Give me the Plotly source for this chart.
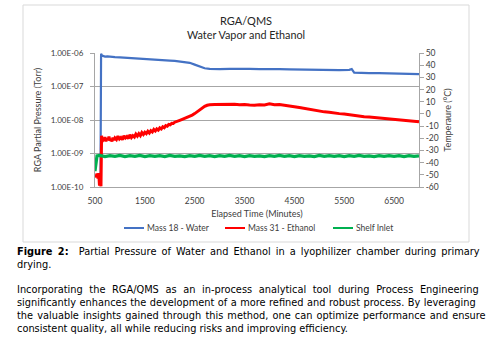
import plotly.graph_objects as go

W, H = 489, 337

# ---- data -------------------------------------------------------------
water_time = [610, 622, 640, 670, 700, 750, 800, 900, 1000, 1100, 1200, 1300, 1400,
              1500, 1600, 1700, 1800, 1900, 2000, 2100, 2200, 2300, 2400, 2500,
              2600, 2700, 2800, 2900, 3000, 3200, 3400, 3600, 3800, 4000, 4200,
              4400, 4600, 4800, 5000, 5200, 5400, 5600, 5650, 5700, 5800, 6000,
              6200, 6400, 6600, 6800, 7000]
water_torr = [1.2e-10, 9.5e-7, 8.4e-7, 8.0e-7, 7.8e-7, 7.9e-7, 7.7e-7, 7.5e-7, 7.4e-7,
              7.2e-7, 7.1e-7, 6.9e-7, 6.7e-7, 6.6e-7, 6.4e-7, 6.3e-7, 6.2e-7, 6.0e-7,
              5.9e-7, 5.8e-7, 5.6e-7, 5.4e-7, 5.1e-7, 4.5e-7, 3.9e-7, 3.5e-7, 3.35e-7,
              3.25e-7, 3.3e-7, 3.35e-7, 3.4e-7, 3.35e-7, 3.3e-7, 3.35e-7, 3.3e-7,
              3.25e-7, 3.2e-7, 3.2e-7, 3.2e-7, 3.15e-7, 3.1e-7, 3.15e-7, 3.3e-7,
              2.6e-7, 2.55e-7, 2.5e-7, 2.5e-7, 2.45e-7, 2.45e-7, 2.4e-7, 2.35e-7]

ethanol_time = [500, 520, 540, 560, 575, 590, 600, 610, 620, 632, 645, 660, 680, 700,
                720, 740, 760, 780, 800, 820, 840, 860, 880, 900, 930, 960, 990, 1020,
                1050, 1080, 1110, 1140, 1170, 1200, 1230, 1260, 1290, 1320, 1350,
                1380, 1410, 1440, 1470, 1500, 1530, 1560, 1590, 1620, 1650, 1680,
                1710, 1740, 1770, 1800, 1830, 1860, 1890, 1920, 1950, 1980, 2010,
                2040, 2070, 2100, 2150, 2200, 2250, 2300, 2350, 2400, 2450, 2500,
                2550, 2600, 2650, 2700, 2750, 2800, 2900, 3000, 3100, 3200, 3300,
                3400, 3500, 3600, 3700, 3800, 3900, 4000, 4100, 4200, 4300, 4400,
                4500, 4600, 4700, 4800, 4900, 5000, 5100, 5200, 5300, 5400, 5500,
                5600, 5700, 5800, 5900, 6000, 6100, 6200, 6300, 6400, 6500, 6600,
                6700, 6800, 6900, 7000]
ethanol_torr = [2.2e-10, 2.0e-10, 2.5e-10, 1.8e-10, 2.6e-10, 1.1e-10, 1.9e-10, 1.6e-10,
                1.05e-10, 3.4e-9, 2.2e-9, 2.9e-9, 2.4e-9, 3.1e-9, 2.3e-9, 2.8e-9,
                2.5e-9, 3.2e-9, 2.4e-9, 2.7e-9, 2.3e-9, 3.0e-9, 2.5e-9, 2.9e-9,
                2.6e-9, 3.3e-9, 2.7e-9, 3.0e-9, 2.6e-9, 3.4e-9, 2.9e-9, 3.2e-9,
                2.8e-9, 3.6e-9, 3.0e-9, 3.4e-9, 3.1e-9, 3.8e-9, 3.3e-9, 3.9e-9,
                3.4e-9, 4.2e-9, 3.7e-9, 4.3e-9, 3.9e-9, 4.6e-9, 4.1e-9, 4.8e-9,
                4.4e-9, 5.2e-9, 4.7e-9, 5.4e-9, 5.0e-9, 5.8e-9, 5.4e-9, 6.3e-9,
                5.9e-9, 6.8e-9, 6.5e-9, 7.4e-9, 7.2e-9, 8.0e-9, 7.9e-9, 8.6e-9,
                9.0e-9, 9.8e-9, 1.05e-8, 1.12e-8, 1.2e-8, 1.3e-8, 1.4e-8, 1.55e-8,
                1.75e-8, 2.0e-8, 2.3e-8, 2.55e-8, 2.75e-8, 2.85e-8, 2.9e-8, 2.95e-8,
                2.85e-8, 2.9e-8, 2.95e-8, 2.85e-8, 2.9e-8, 2.8e-8, 2.75e-8, 2.85e-8,
                2.8e-8, 3.05e-8, 2.85e-8, 2.9e-8, 2.8e-8, 2.65e-8, 2.5e-8, 2.35e-8,
                2.2e-8, 2.05e-8, 1.95e-8, 1.85e-8, 1.75e-8, 1.7e-8, 1.6e-8, 1.55e-8,
                1.5e-8, 1.42e-8, 1.38e-8, 1.3e-8, 1.26e-8, 1.22e-8, 1.18e-8, 1.15e-8,
                1.12e-8, 1.08e-8, 1.05e-8, 1.02e-8, 0.98e-8, 0.95e-8, 0.92e-8, 0.88e-8]

shelf_time = [500, 512, 525, 540, 600, 700, 800, 900, 1000, 1100, 1200, 1300, 1400,
              1500, 1600, 1700, 1800, 1900, 2000, 2100, 2200, 2300, 2400, 2500, 2600,
              2700, 2800, 2900, 3000, 3100, 3200, 3300, 3400, 3500, 3600, 3700, 3800,
              3900, 4000, 4100, 4200, 4300, 4400, 4500, 4600, 4700, 4800, 4900, 5000,
              5100, 5200, 5300, 5400, 5500, 5600, 5700, 5800, 5900, 6000, 6100, 6200,
              6300, 6400, 6500, 6600, 6700, 6800, 6900, 7000]
shelf_temp = [-47, -44, -39, -34.5, -34.0, -35.0, -34.2, -34.9, -34.1, -35.0, -34.3,
              -34.8, -34.0, -35.1, -34.2, -34.9, -34.3, -35.0, -34.1, -34.8, -34.4,
              -35.1, -34.2, -34.9, -34.0, -34.8, -34.3, -35.0, -34.2, -34.9, -34.1,
              -34.8, -34.3, -35.0, -34.2, -34.9, -34.4, -35.1, -34.2, -34.8, -34.1,
              -34.9, -34.3, -35.0, -34.2, -34.8, -34.4, -35.0, -34.1, -34.9, -34.3,
              -34.8, -34.2, -35.0, -34.3, -34.9, -34.1, -34.8, -34.4, -35.0, -34.2,
              -34.9, -34.3, -34.8, -34.2, -35.0, -34.3, -34.9, -34.4]

pressure_ticks = [1e-10, 1e-9, 1e-8, 1e-7, 1e-6]
pressure_labels = ["1.00E-10", "1.00E-09", "1.00E-08", "1.00E-07", "1.00E-06"]
time_ticks = [500, 1500, 2500, 3500, 4500, 5500, 6500]
temp_ticks = [-60, -50, -40, -30, -20, -10, 0, 10, 20, 30, 40, 50]
temp_labels = ["-60", "-50", "-40", "-30", "-20", "-10", "0", "10", "20", "30", "40", "50"]

series_names = ["Mass 18 - Water", "Mass 31 - Ethanol", "Shelf Inlet"]
series_colors = ["#4472C4", "#FF0000", "#00B050"]

title_lines = ["RGA/QMS", "Water Vapor and Ethanol"]
caption_bold = "Figure 2:"
caption_lines = [
    "Partial Pressure of Water and Ethanol in a lyophilizer chamber during primary",
    "drying.",
]
body_lines = [
    "Incorporating the RGA/QMS as an in-process analytical tool during Process Engineering",
    "significantly enhances the development of a more refined and robust process. By leveraging",
    "the valuable insights gained through this method, one can optimize performance and ensure",
    "consistent quality, all while reducing risks and improving efficiency.",
]
# extra spacing between words so full lines reach the right margin (last line is ragged)
caption_spacing = [1.95, 0]
body_spacing = [3.5, 0.35, 1.0, 0]


def px(x):
    return x / W


def py(y):
    return 1 - y / H


CHART_FONT = "Lato"
TEXT_FONT = "DejaVu Sans"
GRID = "#A6A6A6"
AXIS = "#A6A6A6"
LABEL = "#404040"

fig = go.Figure()
fig.add_trace(go.Scatter(x=water_time, y=water_torr, mode="lines", name=series_names[0],
                         line=dict(color=series_colors[0], width=2.2), yaxis="y"))
fig.add_trace(go.Scatter(x=ethanol_time, y=ethanol_torr, mode="lines", name=series_names[1],
                         line=dict(color=series_colors[1], width=3), yaxis="y"))
fig.add_trace(go.Scatter(x=shelf_time, y=shelf_temp, mode="lines", name=series_names[2],
                         line=dict(color=series_colors[2], width=3.2), yaxis="y2"))

x0, x1 = px(95), px(419)
y0, y1 = py(187), py(53)

fig.update_layout(
    width=W, height=H, margin=dict(l=0, r=0, t=0, b=0),
    paper_bgcolor="white", plot_bgcolor="white", showlegend=False,
    font=dict(family=CHART_FONT, size=8, color=LABEL),
    xaxis=dict(domain=[x0, x1], range=[500, 7000], tickvals=time_ticks,
               ticks="", ticklabelstandoff=6, showgrid=False, showline=True,
               linecolor=AXIS, linewidth=1, zeroline=False, automargin=False,
               tickfont=dict(family=CHART_FONT, size=8.5, color=LABEL),
               title=dict(text="Elapsed Time (Minutes)", standoff=5,
                          font=dict(family=CHART_FONT, size=9, color=LABEL))),
    yaxis=dict(domain=[y0, y1], type="log", range=[-10, -6], tickvals=pressure_ticks,
               ticktext=pressure_labels, ticks="outside", ticklen=4, tickcolor=AXIS,
               ticklabelstandoff=5,
               showgrid=True, gridcolor=GRID, gridwidth=1, showline=True, linecolor=AXIS,
               zeroline=False, automargin=False,
               tickfont=dict(family=CHART_FONT, size=8, color=LABEL),
               title=dict(text="RGA Partial Pressure (Torr)", standoff=7,
                          font=dict(family=CHART_FONT, size=9, color=LABEL))),
    yaxis2=dict(domain=[y0, y1], overlaying="y", side="right", anchor="x",
                range=[-60, 50], tickvals=temp_ticks, ticktext=temp_labels,
                ticks="outside", ticklen=4, tickcolor=AXIS, showgrid=False,
                showline=True, linecolor=AXIS, zeroline=False, automargin=False,
                tickfont=dict(family=CHART_FONT, size=8.5, color=LABEL),
                title=dict(text="Temperaure (°C)", standoff=6,
                           font=dict(family=CHART_FONT, size=9, color=LABEL))),
)

shapes = [
    # chart frame
    dict(type="rect", xref="paper", yref="paper", x0=px(23), x1=px(469), y0=py(242),
         y1=py(5), line=dict(color="#D9D9D9", width=1), fillcolor="rgba(0,0,0,0)"),
]
annotations = []


def note(text, x, y, size, family, color, xanchor="center"):
    annotations.append(dict(text=text, x=px(x), y=py(y), xref="paper", yref="paper",
                            xanchor=xanchor, yanchor="middle", showarrow=False,
                            font=dict(family=family, size=size, color=color)))


def spaced(text, spacing):
    if not spacing:
        return text
    return '<span style="word-spacing:%.2fpx">%s</span>' % (spacing, text)


# title
note(title_lines[0], 246, 20, 11, CHART_FONT, "#262626")
note(title_lines[1], 246, 34, 10.8, CHART_FONT, "#262626")

# legend row
legend_items = [(124, 144), (225, 245), (333, 353)]
for (lx0, lx1), name, color in zip(legend_items, series_names, series_colors):
    shapes.append(dict(type="line", xref="paper", yref="paper", x0=px(lx0), x1=px(lx1),
                       y0=py(228), y1=py(228), line=dict(color=color, width=2)))
    note(name, lx1 + 0.5, 228, 8.5, CHART_FONT, LABEL, xanchor="left")

# caption and body text
cap_size = 9.8
note(spaced("<b>" + caption_bold + "</b>&nbsp; " + caption_lines[0], caption_spacing[0]),
     15, 251, cap_size, TEXT_FONT, "#000000", xanchor="left")
note(spaced(caption_lines[1], caption_spacing[1]), 15, 264, cap_size, TEXT_FONT, "#000000",
     xanchor="left")
for i, line in enumerate(body_lines):
    note(spaced(line, body_spacing[i]), 15, 289.5 + 13 * i, cap_size, TEXT_FONT, "#000000",
         xanchor="left")

fig.update_layout(shapes=shapes, annotations=annotations)
fig.write_html("out.html")
